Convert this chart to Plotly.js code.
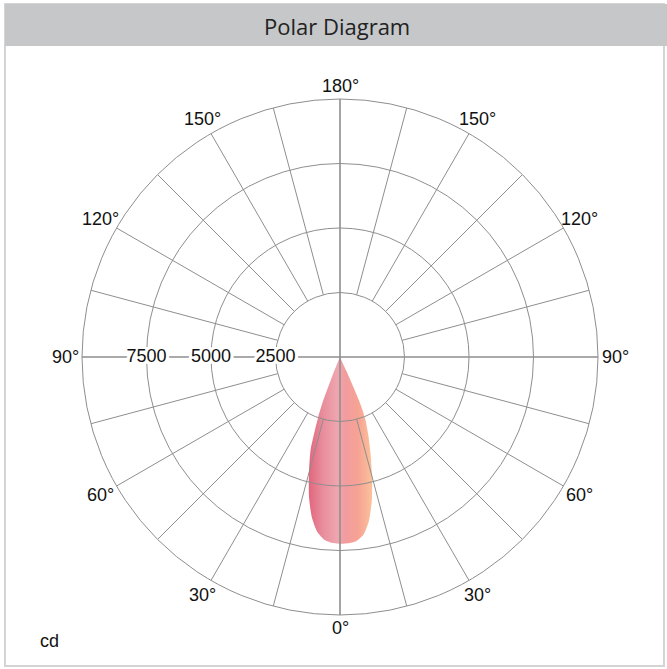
<!DOCTYPE html>
<html>
<head>
<meta charset="utf-8">
<script src="https://cdn.plot.ly/plotly-3.0.1.min.js"></script>
<style>html,body{margin:0;padding:0;background:#fff;}#chart{width:667px;height:669px;}</style>
</head>
<body>
<div id="chart"></div>
<script>
const leftAngles  = [0, 2.5, 5, 7.5, 10, 12.5, 15, 17.5, 19, 20, 21, 21.5, 22, 22.5, 23];
const leftCd      = [7250, 7210, 7100, 6820, 6300, 5550, 4650, 3800, 2950, 2450, 1850, 1300, 800, 350, 0];
const rightAngles = [0, 2.5, 5, 7.5, 10, 12.5, 15, 17.5, 20, 22, 23, 23.6, 24, 24.3, 24.5];
const rightCd     = [7250, 7230, 7170, 6950, 6450, 5700, 4800, 3950, 3200, 2650, 2250, 1800, 1200, 600, 0];

const ringValues  = [2500, 5000, 7500];
const ringLabels  = ['2500', '5000', '7500'];
const rMax = 10000;
const angleTicks  = [0, 30, 60, 90, 120, 150, 180, 210, 240, 270, 300, 330];
const angleLabels = ['0°', '30°', '60°', '90°', '120°', '150°', '180°', '150°', '120°', '90°', '60°', '30°'];
const unitLabel = 'cd';
const titleText = 'Polar Diagram';

// geometry (pixels)
const W = 667, H = 669;
const cx = 340, cy = 357, R = 258;
const px = v => v / W;
const py = v => 1 - v / H;
const rad = d => d * Math.PI / 180;

// lobe outline: centre -> left side (tip to nadir) -> right side (nadir to tip)
const lobeX = [0], lobeY = [0];
for (let i = leftAngles.length - 1; i >= 0; i--) {
  lobeX.push(-leftCd[i] * Math.sin(rad(leftAngles[i])));
  lobeY.push(-leftCd[i] * Math.cos(rad(leftAngles[i])));
}
for (let i = 0; i < rightAngles.length; i++) {
  lobeX.push(rightCd[i] * Math.sin(rad(rightAngles[i])));
  lobeY.push(-rightCd[i] * Math.cos(rad(rightAngles[i])));
}

// spokes every 15°, from the first ring outward; main axes through centre
const spokeT = [], spokeR = [], crossT = [], crossR = [];
for (let a = 0; a < 360; a += 15) {
  if (a % 90 === 0) { crossT.push(a, a, null); crossR.push(0, rMax, null); }
  else { spokeT.push(a, a, null); spokeR.push(ringValues[0], rMax, null); }
}

const gridColor = '#8e8e8e';
const labelFont = {family: 'Liberation Sans, Arial, sans-serif', size: 18, color: '#111'};
const halo = ['1px 0 0 #fff','-1px 0 0 #fff','2px 0 0 #fff','-2px 0 0 #fff','3px 0 0 #fff','-3px 0 0 #fff',
  '0 1px 0 #fff','0 -1px 0 #fff','0 2px 0 #fff','0 -2px 0 #fff','2px 2px 0 #fff','-2px -2px 0 #fff',
  '2px -2px 0 #fff','-2px 2px 0 #fff','3px 2px 0 #fff','-3px 2px 0 #fff','3px -2px 0 #fff','-3px -2px 0 #fff'].join(', ');

// angular labels placed just outside the outer ring, centred on their direction
const angleAnnotations = angleTicks.map((a, i) => {
  const s = Math.abs(Math.sin(rad(a))), s2 = Math.abs(Math.sin(rad(2 * a)));
  const d = R + 13 + 4 * s + 2.5 * s2;
  return {
    xref: 'paper', yref: 'paper', showarrow: false,
    x: px(cx + d * Math.sin(rad(a))), y: py(cy + d * Math.cos(rad(a))),
    xanchor: 'center', yanchor: 'middle', text: angleLabels[i], font: labelFont
  };
});

const traces = [
  {
    type: 'scatter', x: lobeX, y: lobeY, xaxis: 'x', yaxis: 'y',
    mode: 'lines', line: {width: 0, shape: 'spline', smoothing: 0.6, color: 'rgba(0,0,0,0)'},
    fill: 'toself',
    fillgradient: {type: 'horizontal', colorscale: [
      [0, '#e2667d'], [0.22, '#e88d9c'], [0.45, '#eea6af'], [0.58, '#f29c9e'],
      [0.78, '#f6a394'], [1, '#fbc29b']]},
    hoverinfo: 'skip', showlegend: false
  },
  {
    type: 'scatterpolar', r: spokeR, theta: spokeT, mode: 'lines',
    line: {color: gridColor, width: 1}, hoverinfo: 'skip', showlegend: false
  },
  {
    type: 'scatterpolar', r: crossR, theta: crossT, mode: 'lines',
    line: {color: gridColor, width: 1.6}, hoverinfo: 'skip', showlegend: false
  },
  {
    type: 'scatterpolar', r: ringValues, theta: ringValues.map(() => 270), mode: 'text',
    text: ringLabels, textposition: 'middle center',
    textfont: Object.assign({}, labelFont, {shadow: halo}),
    hoverinfo: 'skip', showlegend: false, cliponaxis: false
  }
];

const layout = {
  width: W, height: H,
  margin: {l: 0, r: 0, t: 0, b: 0, pad: 0},
  paper_bgcolor: '#fff', plot_bgcolor: 'rgba(0,0,0,0)',
  showlegend: false,
  xaxis: {domain: [px(cx - R), px(cx + R)], range: [-rMax, rMax], visible: false, fixedrange: true},
  yaxis: {domain: [py(cy + R), py(cy - R)], range: [-rMax, rMax], visible: false, fixedrange: true},
  polar: {
    domain: {x: [px(cx - R), px(cx + R)], y: [py(cy + R), py(cy - R)]},
    bgcolor: 'rgba(0,0,0,0)',
    radialaxis: {
      range: [0, rMax], tickmode: 'array', tickvals: ringValues,
      showgrid: true, gridcolor: gridColor, gridwidth: 1,
      showticklabels: false, showline: false, ticks: ''
    },
    angularaxis: {
      rotation: -90, direction: 'counterclockwise',
      tickmode: 'array', tickvals: angleTicks, ticktext: angleLabels,
      showgrid: false, showline: true, linecolor: gridColor, linewidth: 1,
      ticks: '', showticklabels: false
    }
  },
  shapes: [
    {type: 'rect', xref: 'paper', yref: 'paper', layer: 'below',
     x0: px(5), x1: px(664), y0: py(666), y1: py(4),
     line: {color: '#d4d4d4', width: 2}, fillcolor: 'rgba(0,0,0,0)'},
    {type: 'rect', xref: 'paper', yref: 'paper', layer: 'below',
     x0: px(5), x1: px(667), y0: py(46), y1: py(4),
     line: {width: 0}, fillcolor: '#c6c7c9'}
  ],
  annotations: [
    {xref: 'paper', yref: 'paper', x: px(337), y: py(26), xanchor: 'center', yanchor: 'middle',
     text: titleText, showarrow: false,
     font: {family: 'Open Sans, sans-serif', size: 22, color: '#222'}},
    {xref: 'paper', yref: 'paper', x: px(38), y: py(641), xanchor: 'left', yanchor: 'middle',
     text: unitLabel, showarrow: false, font: labelFont}
  ].concat(angleAnnotations)
};

Plotly.newPlot('chart', traces, layout, {displayModeBar: false, staticPlot: true});
</script>
</body>
</html>
